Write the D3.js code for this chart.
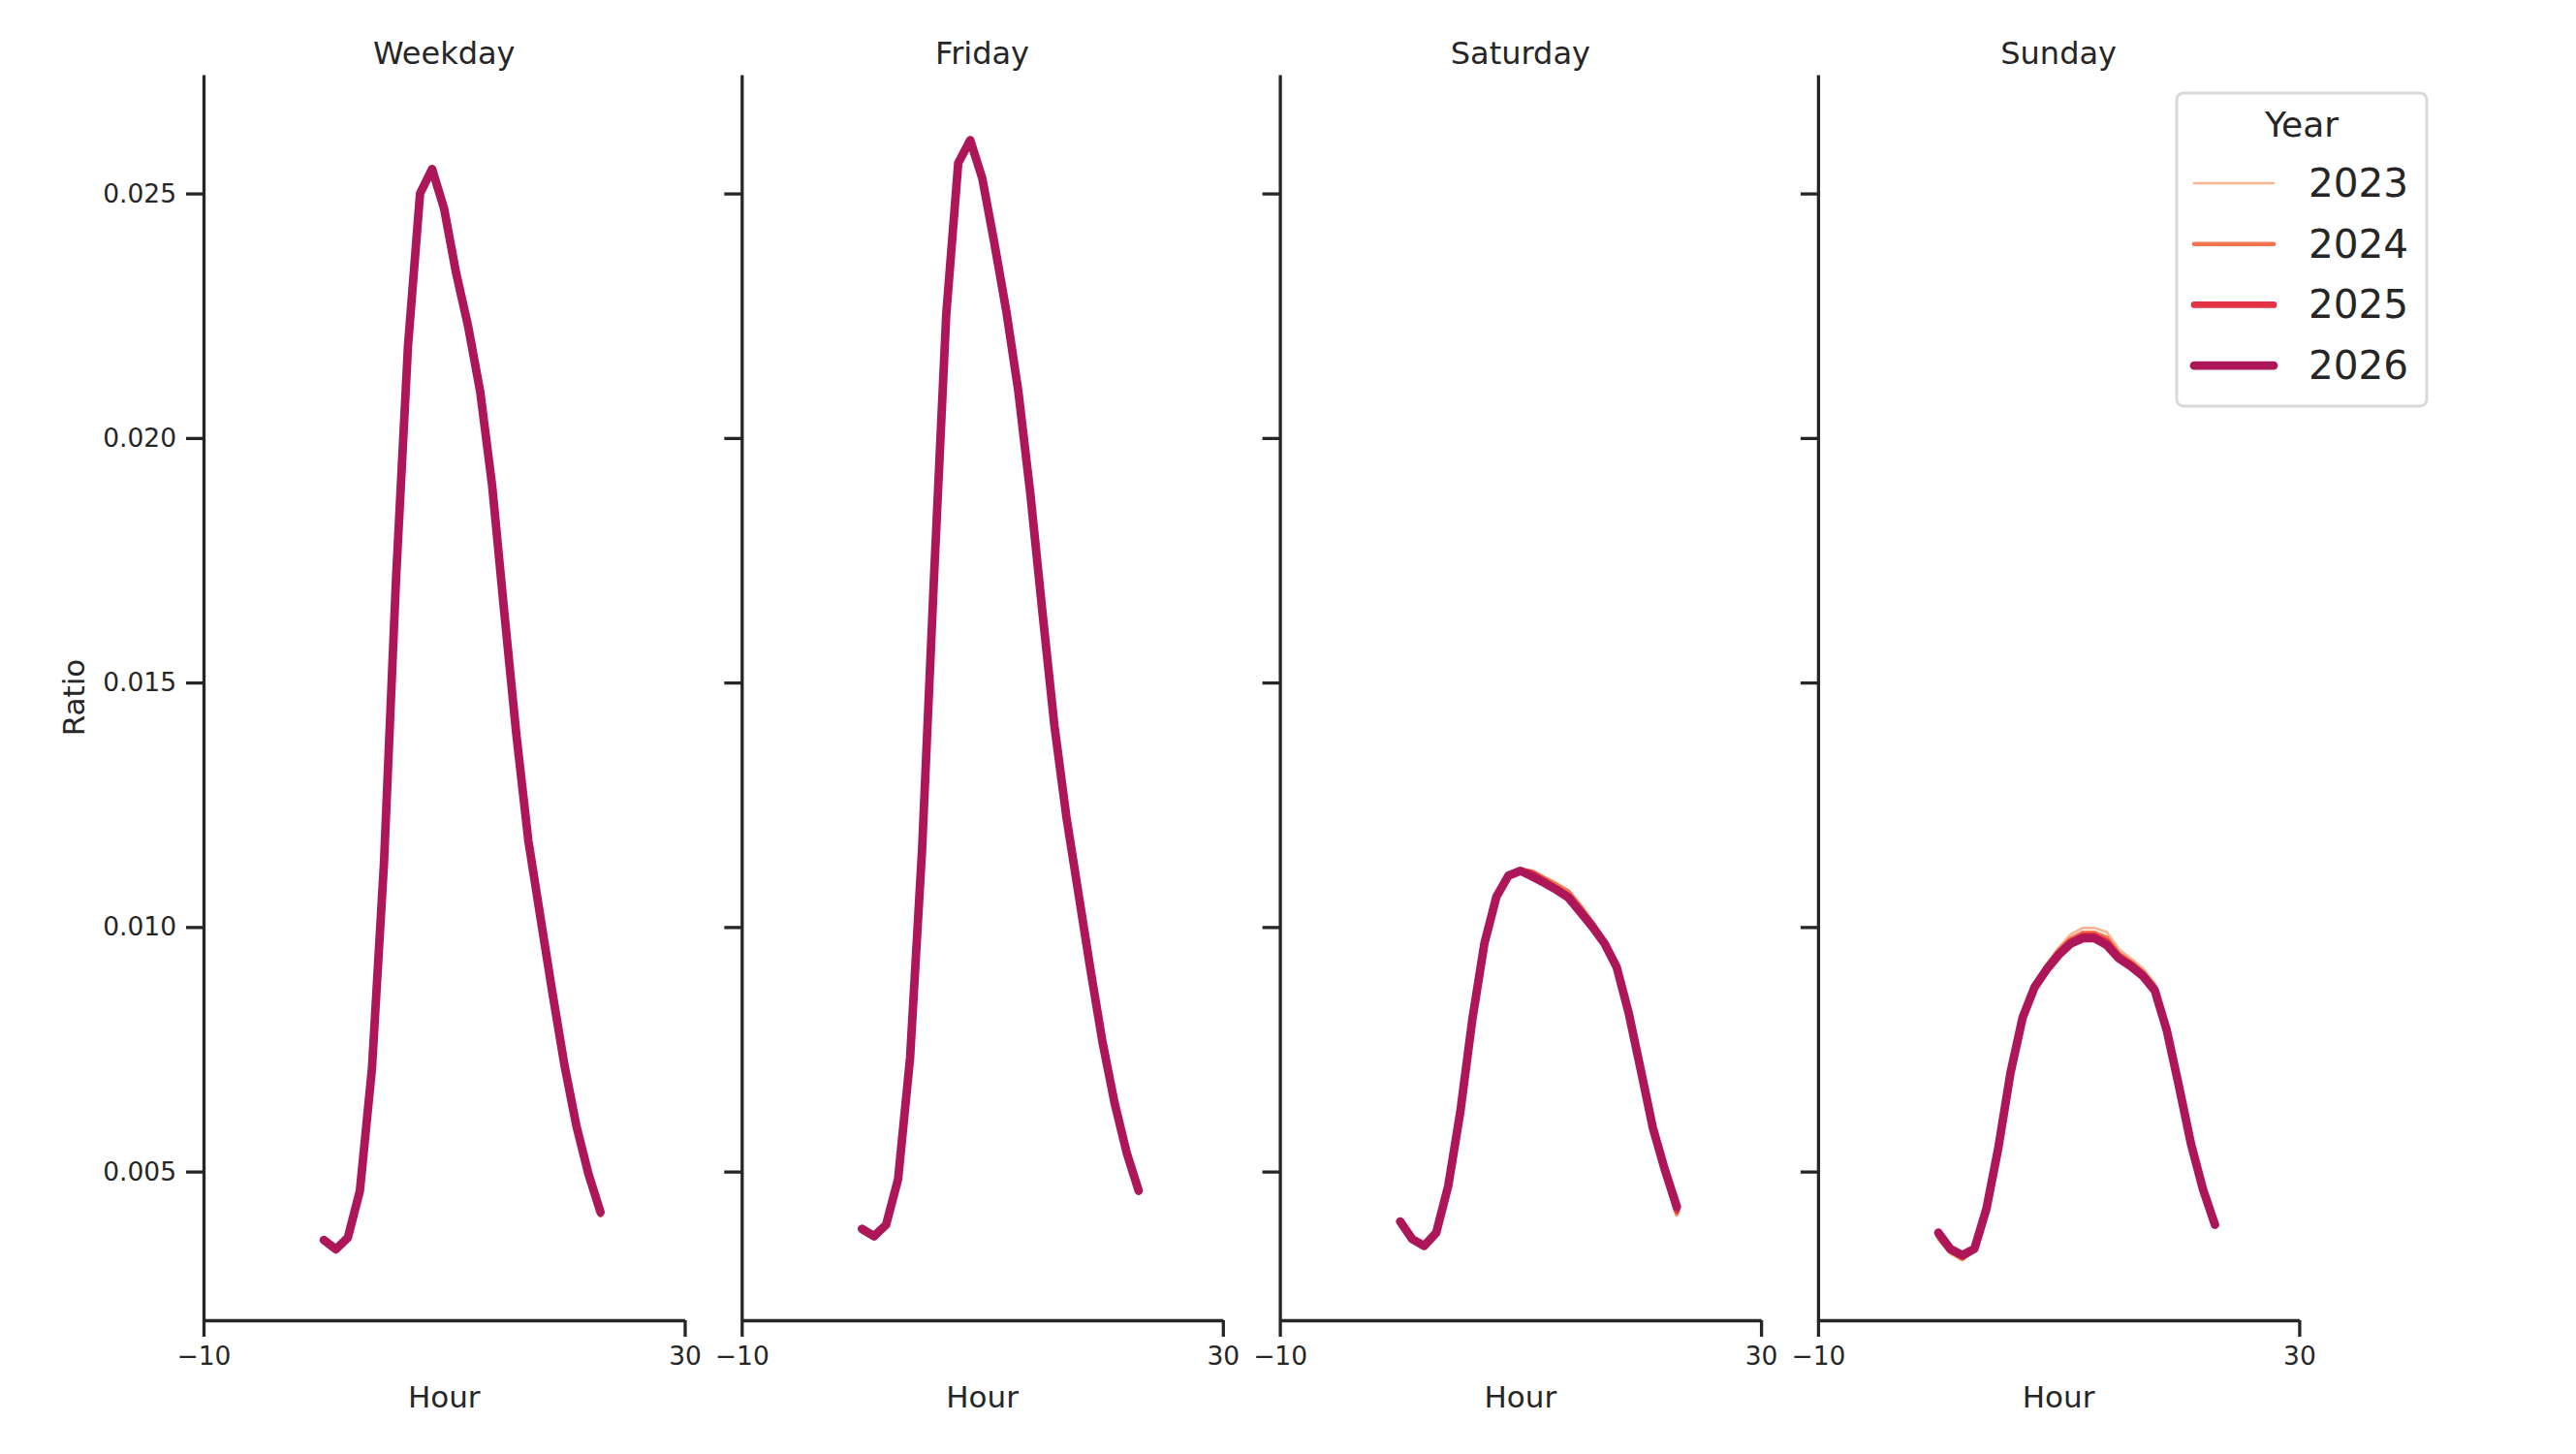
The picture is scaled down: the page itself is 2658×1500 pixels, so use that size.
<!DOCTYPE html>
<html>
<head>
<meta charset="utf-8">
<script src="https://cdn.jsdelivr.net/npm/d3@7"></script>
<style>
  body { margin: 0; background: #fff; }
  svg { display: block; font-family: "DejaVu Sans", sans-serif; }
</style>
</head>
<body>
<svg id="chart" width="2658" height="1500"></svg>
<script>
// facets, hue levels and the hour axis
const panels = ["Weekday", "Friday", "Saturday", "Sunday"];
const years = [2023, 2024, 2025, 2026];
const hours = [0, 1, 2, 3, 4, 5, 6, 7, 8, 9, 10, 11, 12, 13, 14, 15, 16, 17, 18, 19, 20, 21, 22, 23];
const yTicks = [0.005, 0.010, 0.015, 0.020, 0.025];
const xTicks = [-10, 30];

// ratio per hour, one list per panel and year
const weekday2023 = [0.00358, 0.00340, 0.00364, 0.00460, 0.00709, 0.01128, 0.01702, 0.02192, 0.02502, 0.02552, 0.02471, 0.02338, 0.02229, 0.02096, 0.01902, 0.01645, 0.01396, 0.01178, 0.01021, 0.00866, 0.00717, 0.00591, 0.00492, 0.00408];
const weekday2024 = [0.00359, 0.00340, 0.00364, 0.00460, 0.00709, 0.01129, 0.01705, 0.02191, 0.02501, 0.02551, 0.02470, 0.02337, 0.02228, 0.02095, 0.01901, 0.01644, 0.01395, 0.01177, 0.01021, 0.00866, 0.00717, 0.00592, 0.00493, 0.00411];
const weekday2025 = [0.00360, 0.00341, 0.00365, 0.00461, 0.00710, 0.01130, 0.01708, 0.02190, 0.02500, 0.02550, 0.02469, 0.02337, 0.02228, 0.02095, 0.01901, 0.01644, 0.01395, 0.01177, 0.01021, 0.00866, 0.00718, 0.00593, 0.00494, 0.00414];
const weekday2026 = [0.00360, 0.00341, 0.00365, 0.00461, 0.00710, 0.01130, 0.01710, 0.02189, 0.02500, 0.02550, 0.02469, 0.02337, 0.02228, 0.02095, 0.01901, 0.01644, 0.01395, 0.01177, 0.01021, 0.00866, 0.00718, 0.00593, 0.00495, 0.00417];

const friday2023 = [0.00375, 0.00362, 0.00387, 0.00482, 0.00732, 0.01160, 0.01722, 0.02252, 0.02564, 0.02614, 0.02534, 0.02400, 0.02260, 0.02096, 0.01886, 0.01645, 0.01411, 0.01224, 0.01068, 0.00912, 0.00764, 0.00639, 0.00537, 0.00455];
const friday2024 = [0.00378, 0.00364, 0.00389, 0.00483, 0.00733, 0.01161, 0.01722, 0.02251, 0.02563, 0.02612, 0.02533, 0.02399, 0.02259, 0.02095, 0.01885, 0.01644, 0.01411, 0.01224, 0.01068, 0.00912, 0.00764, 0.00640, 0.00538, 0.00457];
const friday2025 = [0.00381, 0.00366, 0.00390, 0.00484, 0.00733, 0.01161, 0.01722, 0.02251, 0.02562, 0.02610, 0.02532, 0.02399, 0.02259, 0.02095, 0.01885, 0.01644, 0.01411, 0.01224, 0.01068, 0.00912, 0.00764, 0.00640, 0.00539, 0.00459];
const friday2026 = [0.00383, 0.00368, 0.00391, 0.00484, 0.00733, 0.01161, 0.01722, 0.02251, 0.02562, 0.02609, 0.02531, 0.02399, 0.02259, 0.02095, 0.01885, 0.01644, 0.01411, 0.01224, 0.01068, 0.00912, 0.00764, 0.00640, 0.00539, 0.00461];

const saturday2023 = [0.00392, 0.00358, 0.00345, 0.00373, 0.00470, 0.00622, 0.00812, 0.00968, 0.01064, 0.01107, 0.01118, 0.01115, 0.01102, 0.01090, 0.01075, 0.01045, 0.01010, 0.00972, 0.00924, 0.00826, 0.00708, 0.00588, 0.00498, 0.00410];
const saturday2024 = [0.00394, 0.00360, 0.00346, 0.00374, 0.00470, 0.00622, 0.00811, 0.00967, 0.01063, 0.01106, 0.01117, 0.01113, 0.01100, 0.01086, 0.01072, 0.01042, 0.01008, 0.00970, 0.00922, 0.00825, 0.00708, 0.00589, 0.00500, 0.00414];
const saturday2025 = [0.00396, 0.00361, 0.00347, 0.00375, 0.00471, 0.00622, 0.00811, 0.00966, 0.01062, 0.01105, 0.01116, 0.01109, 0.01094, 0.01079, 0.01064, 0.01034, 0.01004, 0.00967, 0.00920, 0.00824, 0.00708, 0.00590, 0.00502, 0.00421];
const saturday2026 = [0.00398, 0.00362, 0.00348, 0.00375, 0.00471, 0.00622, 0.00811, 0.00966, 0.01062, 0.01105, 0.01115, 0.01103, 0.01090, 0.01076, 0.01060, 0.01030, 0.01000, 0.00966, 0.00918, 0.00824, 0.00708, 0.00590, 0.00504, 0.00428];

const sunday2023 = [0.00360, 0.00332, 0.00318, 0.00338, 0.00422, 0.00552, 0.00706, 0.00820, 0.00884, 0.00925, 0.00958, 0.00985, 0.00998, 0.00998, 0.00990, 0.00955, 0.00936, 0.00916, 0.00885, 0.00795, 0.00678, 0.00558, 0.00462, 0.00390];
const sunday2024 = [0.00366, 0.00336, 0.00322, 0.00340, 0.00423, 0.00551, 0.00704, 0.00818, 0.00881, 0.00920, 0.00952, 0.00976, 0.00988, 0.00988, 0.00978, 0.00946, 0.00929, 0.00908, 0.00878, 0.00791, 0.00676, 0.00558, 0.00463, 0.00391];
const sunday2025 = [0.00371, 0.00339, 0.00326, 0.00341, 0.00424, 0.00550, 0.00703, 0.00816, 0.00879, 0.00916, 0.00947, 0.00970, 0.00982, 0.00982, 0.00970, 0.00940, 0.00924, 0.00904, 0.00874, 0.00790, 0.00676, 0.00557, 0.00464, 0.00391];
const sunday2026 = [0.00375, 0.00342, 0.00329, 0.00342, 0.00424, 0.00550, 0.00702, 0.00814, 0.00877, 0.00913, 0.00943, 0.00966, 0.00977, 0.00977, 0.00963, 0.00936, 0.00920, 0.00900, 0.00870, 0.00788, 0.00675, 0.00557, 0.00464, 0.00391];

// look-up table built from the lists above
const series = {
  Weekday: [weekday2023, weekday2024, weekday2025, weekday2026],
  Friday: [friday2023, friday2024, friday2025, friday2026],
  Saturday: [saturday2023, saturday2024, saturday2025, saturday2026],
  Sunday: [sunday2023, sunday2024, sunday2025, sunday2026]
};

// styling
const yearColors = ["#f6b48f", "#f37651", "#e13342", "#ad1759"];
const yearWidths = [2.6, 4.6, 6.7, 8.8];
const ink = "#262626";

const svg = d3.select("#chart");
svg.append("rect").attr("width", 2658).attr("height", 1500).attr("fill", "#fff");

const panelLeft = 210, panelStep = 555.3, panelWidth = 496.5;
const plotTop = 77, plotBottom = 1362;

const x = d3.scaleLinear().domain([-10, 30]).range([0, panelWidth]);
const y = d3.scaleLinear().domain([0.00196, 0.02743]).range([plotBottom, plotTop]);

const line = d3.line()
  .x((d, i) => x(hours[i]))
  .y(d => y(d));

function styleAxis(g) {
  g.select(".domain").attr("stroke", ink).attr("stroke-width", 3.3);
  g.selectAll(".tick line").attr("stroke", ink).attr("stroke-width", 3.3);
  g.selectAll(".tick text")
    .attr("fill", ink)
    .attr("font-size", 26.5)
    .attr("font-family", "DejaVu Sans");
}

panels.forEach((name, p) => {
  const g = svg.append("g")
    .attr("transform", `translate(${panelLeft + p * panelStep},0)`);

  // lines, thin 2023 first and 2026 on top
  years.forEach((yr, k) => {
    g.append("path")
      .datum(series[name][k])
      .attr("fill", "none")
      .attr("stroke", yearColors[k])
      .attr("stroke-width", yearWidths[k])
      .attr("stroke-linejoin", "round")
      .attr("stroke-linecap", "round")
      .attr("d", line);
  });

  const yAxis = d3.axisLeft(y)
    .tickValues(yTicks)
    .tickSize(18)
    .tickSizeOuter(0)
    .tickPadding(10)
    .tickFormat(p === 0 ? d3.format(".3f") : "");
  g.append("g").call(yAxis).call(styleAxis);

  const xAxis = d3.axisBottom(x)
    .tickValues(xTicks)
    .tickSize(17)
    .tickSizeOuter(0)
    .tickPadding(10)
    .tickFormat(d3.format("d"));
  g.append("g")
    .attr("transform", `translate(0,${plotBottom})`)
    .call(xAxis).call(styleAxis);

  g.append("text")
    .attr("x", panelWidth / 2)
    .attr("y", 66)
    .attr("text-anchor", "middle")
    .attr("font-size", 32)
    .attr("fill", ink)
    .text(name);

  g.append("text")
    .attr("x", panelWidth / 2)
    .attr("y", 1452)
    .attr("text-anchor", "middle")
    .attr("font-size", 31)
    .attr("fill", ink)
    .text("Hour");
});

svg.append("text")
  .attr("transform", `translate(87,${(plotTop + plotBottom) / 2}) rotate(-90)`)
  .attr("text-anchor", "middle")
  .attr("font-size", 31)
  .attr("fill", ink)
  .text("Ratio");

// legend
const legend = svg.append("g");
legend.append("rect")
  .attr("x", 2246).attr("y", 96)
  .attr("width", 258).attr("height", 323)
  .attr("rx", 7)
  .attr("fill", "#fff").attr("fill-opacity", 0.8)
  .attr("stroke", "#d9d9d9").attr("stroke-width", 3);
legend.append("text")
  .attr("x", 2375).attr("y", 141)
  .attr("text-anchor", "middle")
  .attr("font-size", 36)
  .attr("fill", ink)
  .text("Year");
years.forEach((yr, k) => {
  const ly = 189 + k * 62.7;
  legend.append("line")
    .attr("x1", 2264).attr("x2", 2346)
    .attr("y1", ly).attr("y2", ly)
    .attr("stroke", yearColors[k])
    .attr("stroke-width", yearWidths[k])
    .attr("stroke-linecap", "round");
  legend.append("text")
    .attr("x", 2382).attr("y", ly + 14)
    .attr("font-size", 40.5)
    .attr("fill", ink)
    .text(yr);
});
</script>
</body>
</html>
